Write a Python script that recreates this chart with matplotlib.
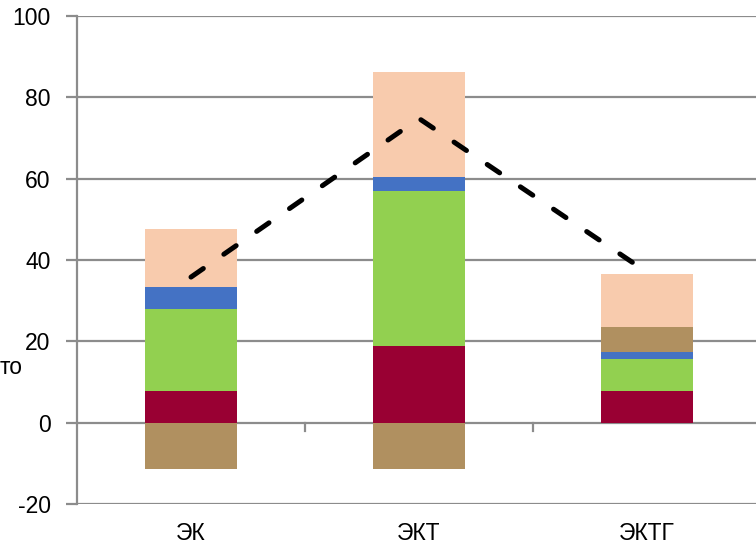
import matplotlib.pyplot as plt
import numpy as np

plt.rcParams['font.family'] = ['Liberation Sans', 'DejaVu Sans']
plt.rcParams['axes.unicode_minus'] = False

categories = ['ЭК', 'ЭКТ', 'ЭКТГ']
maroon_vals = [7.9, 18.9, 7.9]
green_vals = [20.1, 38.1, 7.8]
blue_vals = [5.4, 3.4, 1.7]
tan_vals = [-11.5, -11.5, 6.2]
peach_vals = [14.2, 25.8, 13.0]
line_vals = [35.8, 74.8, 37.0]
yticks = [-20, 0, 20, 40, 60, 80, 100]

colors = ['#990033', '#92D050', '#4472C4', '#B09060', '#F8CBAD']
series = [maroon_vals, green_vals, blue_vals, tan_vals, peach_vals]
grid_c = '#8c8c8c'
FS = 16.5

fig = plt.figure(figsize=(7.56, 5.51), dpi=100)
W, H = 756, 551
ax = fig.add_axes([77 / W, 47 / H, 684 / W, 488 / H])

x = np.arange(len(categories))
pos_base = np.zeros(len(x))
neg_base = np.zeros(len(x))
for vals, c in zip(series, colors):
    v = np.array(vals, dtype=float)
    base = np.where(v >= 0, pos_base, neg_base)
    ax.bar(x, v, bottom=base, width=0.4, color=c, edgecolor='none', zorder=3)
    pos_base = np.where(v >= 0, pos_base + v, pos_base)
    neg_base = np.where(v < 0, neg_base + v, neg_base)

ax.plot(x, line_vals, color='black', lw=3.6, dashes=(3.0, 5.0),
        dash_capstyle='round', zorder=4)

ax.set_xlim(-0.5, 2.5)
ax.set_ylim(-20, 100)
for y in yticks:
    ax.axhline(y, color=grid_c, lw=1.6, zorder=1)
for s in ['top', 'right', 'bottom']:
    ax.spines[s].set_visible(False)
ax.spines['left'].set_color(grid_c)
ax.spines['left'].set_linewidth(1.6)

ax.set_yticks(yticks)
ax.tick_params(axis='y', length=8, width=1.6, color=grid_c, labelsize=FS, pad=11)
ax.set_xticks(x)
ax.set_xticklabels(categories)
ax.tick_params(axis='x', length=0, labelsize=FS, pad=13)

# tick marks on zero line between categories
for xt in [0.5, 1.5]:
    ax.plot([xt, xt], [0, -2], color=grid_c, lw=1.6, zorder=2)

fig.text(0, (551 - 367) / H, 'то', fontsize=FS, ha='left', va='center')

fig.savefig('out.png', dpi=100)
